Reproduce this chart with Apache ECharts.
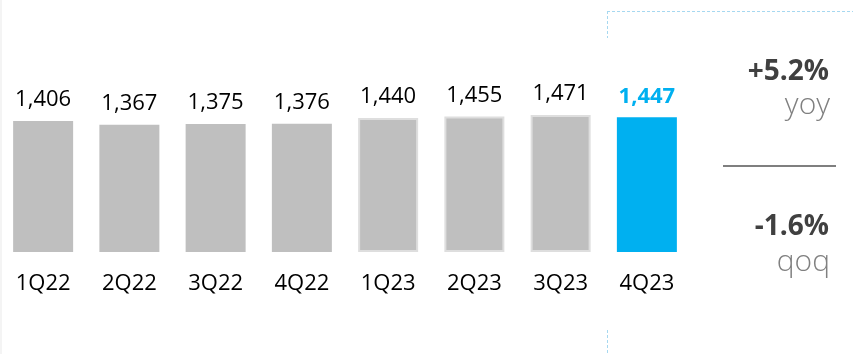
<!DOCTYPE html>
<html>
<head>
<meta charset="utf-8">
<script src="https://cdn.jsdelivr.net/npm/echarts@6/dist/echarts.min.js"></script>
<style>
  html, body { margin: 0; padding: 0; background: #fff; }
  #board { width: 853px; height: 354px; }
</style>
</head>
<body>
<div id="board"></div>
<script>
// quarterly values
const quarters = ['1Q22', '2Q22', '3Q22', '4Q22', '1Q23', '2Q23', '3Q23', '4Q23'];
const values = [1406, 1367, 1375, 1376, 1440, 1455, 1471, 1447];
const yoyText = '+5.2%';
const qoqText = '-1.6%';

const FONT = '"Open Sans", "Noto Sans", sans-serif';
const last = values.length - 1;

let chart = echarts.init(document.getElementById('board'));

let barData = values.map((v, i) => {
  if (i === last) {
    return { value: v, itemStyle: { color: '#00b0f0' },
      label: { color: '#00b0f0', fontWeight: 'bold' } };
  }
  if (i >= 4) {
    return { value: v, itemStyle: { color: '#bfbfbf', borderColor: '#dedede', borderWidth: 2 } };
  }
  return { value: v, itemStyle: { color: '#bfbfbf' } };
});

chart.setOption({
  animation: false,
  backgroundColor: '#fff',
  grid: { left: 0, right: 163, top: 103, bottom: 102 },
  xAxis: {
    type: 'category',
    data: quarters,
    axisLine: { show: false },
    axisTick: { show: false },
    axisLabel: { fontSize: 22, color: '#000', fontFamily: FONT, margin: 21 }
  },
  yAxis: { type: 'value', min: 0, max: 1600, show: false },
  series: [{
    type: 'bar',
    data: barData,
    barWidth: 60,
    label: {
      show: true,
      position: 'top',
      distance: 10,
      fontSize: 22,
      color: '#000',
      fontFamily: FONT,
      formatter: p => p.value.toLocaleString('en-US')
    }
  }],
  graphic: [
    // faint left edge
    { type: 'rect', shape: { x: 0, y: 0, width: 2, height: 354 }, style: { fill: '#f4f4f4' } },
    // dashed frame of the right panel
    { type: 'line', shape: { x1: 607, y1: 11.5, x2: 853, y2: 11.5 },
      style: { stroke: '#a6d8f0', lineWidth: 1, lineDash: [3, 2] } },
    { type: 'line', shape: { x1: 607.5, y1: 11, x2: 607.5, y2: 38 },
      style: { stroke: '#a6d8f0', lineWidth: 1, lineDash: [3, 2] } },
    { type: 'line', shape: { x1: 607.5, y1: 330, x2: 607.5, y2: 354 },
      style: { stroke: '#a6d8f0', lineWidth: 1, lineDash: [3, 2] } },
    { type: 'text', style: { text: yoyText, x: 829, y: 72, align: 'right', verticalAlign: 'middle',
      font: 'bold 28px ' + FONT, fill: '#404040' } },
    { type: 'text', style: { text: 'yoy', x: 830, y: 105, align: 'right', verticalAlign: 'middle',
      font: '300 30px ' + FONT, fill: '#808080' } },
    { type: 'line', shape: { x1: 723, y1: 166, x2: 836, y2: 166 },
      style: { stroke: '#7f7f7f', lineWidth: 2 } },
    { type: 'text', style: { text: qoqText, x: 829, y: 227, align: 'right', verticalAlign: 'middle',
      font: 'bold 28px ' + FONT, fill: '#404040' } },
    { type: 'text', style: { text: 'qoq', x: 830, y: 262, align: 'right', verticalAlign: 'middle',
      font: '300 30px ' + FONT, fill: '#808080' } }
  ]
});
</script>
</body>
</html>
